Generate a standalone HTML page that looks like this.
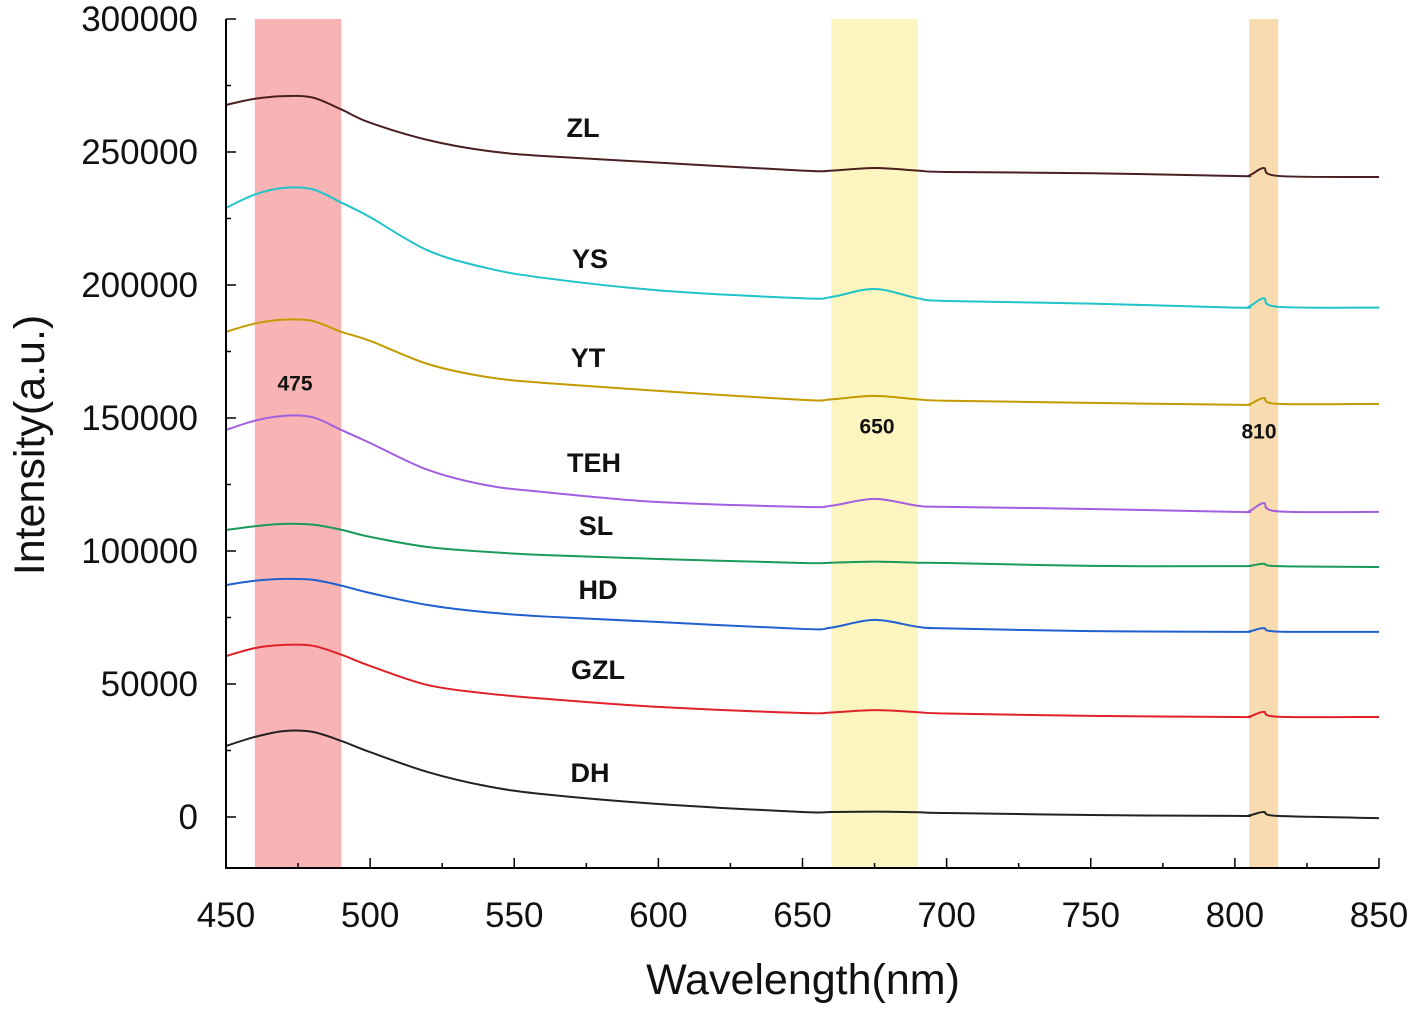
<!DOCTYPE html>
<html><head><meta charset="utf-8"><style>
html,body{margin:0;padding:0;background:#fff;}
svg{display:block;font-family:"Liberation Sans",Arial,sans-serif;}
</style></head><body>
<svg id="chart" width="1417" height="1012" viewBox="0 0 1417 1012"></svg>
<script>
const wl = [450,460,470,480,490,500,520,540,560,600,650,660,675,690,700,750,800,805,810,815,850];
const seriesNames = ["ZL","YS","YT","TEH","SL","HD","GZL","DH"];
const zl  = [267700,270000,271000,270500,266000,261000,254500,250500,248500,246000,243000,243000,244000,243000,242500,242000,241000,241200,244000,241000,240600];
const ys  = [229000,234000,236500,236000,231000,225500,213000,206500,202700,198000,195000,195500,198500,195000,194000,193000,191500,192000,195000,191800,191500];
const yt  = [182400,185500,187000,186500,182400,179000,170300,165500,163200,160200,156800,157000,158300,157000,156500,155700,155000,155200,157500,155300,155300];
const teh = [145500,149000,150800,150300,145500,140600,130500,124800,122200,118400,116600,117000,119600,117000,116600,115800,114700,115000,118000,114900,114700];
const sl  = [107900,109300,110200,109900,108000,105300,101500,99700,98500,97000,95500,95600,96000,95600,95500,94400,94300,94400,95200,94300,94000];
const hd  = [87200,88800,89500,89200,87000,84200,79700,77000,75400,73300,70700,71200,74100,71500,70900,69900,69600,69800,71000,69700,69600];
const gzl = [60500,63500,64700,64400,61000,56800,49600,46500,44500,41400,39100,39300,40200,39400,38900,38000,37600,37800,39500,37700,37600];
const dh  = [26700,30100,32300,32000,28600,24400,16900,11700,8600,4900,1900,1900,2000,1800,1500,750,400,600,1900,400,-400];
const seriesData = [zl,ys,yt,teh,sl,hd,gzl,dh];
const colors = ["#4a1f22","#1fc3c8","#c39b00","#a25ee0","#1a9a5a","#1f5fd0","#e0202a","#222222"];
const labelPos = [[583,130],[590,261],[588,360],[594,465],[596,528],[598,592],[598,672],[590,775]];
const xTicks = [450,500,550,600,650,700,750,800,850];
const yTicks = [0,50000,100000,150000,200000,250000,300000];
const bands = [[460,490,"#f8b4b4"],[660,690,"#fdf5c0"],[805,815,"#f8dcb0"]];
const bandLabels = [["475",295,385],["650",877,428],["810",1259,433]];

const X0=226,X1=1379,YT=19,YB=868;
const sx = v => X0 + (v-450)/(850-450)*(X1-X0);
const sy = v => 817 - v/50000*133;
const svg = document.getElementById('chart');
const NS="http://www.w3.org/2000/svg";
function mk(t,a){const e=document.createElementNS(NS,t);for(const k in a)e.setAttribute(k,a[k]);svg.appendChild(e);return e;}

bands.forEach((b,i)=>{
  const r=mk('rect',{x:sx(b[0]),y:YT,width:sx(b[1])-sx(b[0]),height:YB-YT,fill:b[2]});
  
  
});

function smooth(pts){
  let d=`M${pts[0][0]},${pts[0][1]}`;
  for(let i=0;i<pts.length-1;i++){
    const p0=pts[Math.max(0,i-1)],p1=pts[i],p2=pts[i+1],p3=pts[Math.min(pts.length-1,i+2)];
    const c1=[p1[0]+(p2[0]-p0[0])/6,p1[1]+(p2[1]-p0[1])/6];
    const c2=[p2[0]-(p3[0]-p1[0])/6,p2[1]-(p3[1]-p1[1])/6];
    d+=` C${c1[0]},${c1[1]} ${c2[0]},${c2[1]} ${p2[0]},${p2[1]}`;
  }
  return d;
}
seriesData.forEach((arr,i)=>{
  const pts=wl.map((w,j)=>[sx(w),sy(arr[j])]);
  const p=mk('path',{d:smooth(pts),fill:'none',stroke:colors[i],'stroke-width':2});
  
  
  const t=mk('text',{x:labelPos[i][0],y:labelPos[i][1],'text-anchor':'middle','dominant-baseline':'middle','font-size':27,'font-weight':'bold',fill:'#111'});
  t.textContent=seriesNames[i];
  
  
});
bandLabels.forEach(b=>{
  const t=mk('text',{x:b[1],y:b[2],'text-anchor':'middle','dominant-baseline':'middle','font-size':21,'font-weight':'bold',fill:'#111'});
  t.textContent=b[0];
  
  
});

// axes
const ax=mk('path',{d:`M${X0},${YT} V${YB} H${X1}`,fill:'none',stroke:'#000','stroke-width':2});


xTicks.forEach((v,i)=>{
  mk('line',{x1:sx(v),x2:sx(v),y1:YB,y2:YB-10,stroke:'#000','stroke-width':1.5});
  if(i<xTicks.length-1){const m=sx(v+25);mk('line',{x1:m,x2:m,y1:YB,y2:YB-5,stroke:'#000','stroke-width':1.5});}
  const t=mk('text',{x:sx(v),y:927,'text-anchor':'middle','font-size':35,fill:'#111'});
  t.textContent=v;
  
  
});
yTicks.forEach((v,i)=>{
  mk('line',{x1:X0,x2:X0+10,y1:sy(v),y2:sy(v),stroke:'#000','stroke-width':1.5});
  if(v>0) mk('line',{x1:X0,x2:X0+5,y1:sy(v-25000),y2:sy(v-25000),stroke:'#000','stroke-width':1.5});
  const t=mk('text',{x:198,y:sy(v)+12,'text-anchor':'end','font-size':35,fill:'#111'});
  t.textContent=v;
  
  
});
const xt=mk('text',{x:803,y:994,'text-anchor':'middle','font-size':43,fill:'#111'});
xt.textContent='Wavelength(nm)';


const yt2=mk('text',{x:0,y:0,'text-anchor':'middle','font-size':43,fill:'#111',transform:'translate(44,445) rotate(-90)'});
yt2.textContent='Intensity(a.u.)';


</script>
</body></html>
